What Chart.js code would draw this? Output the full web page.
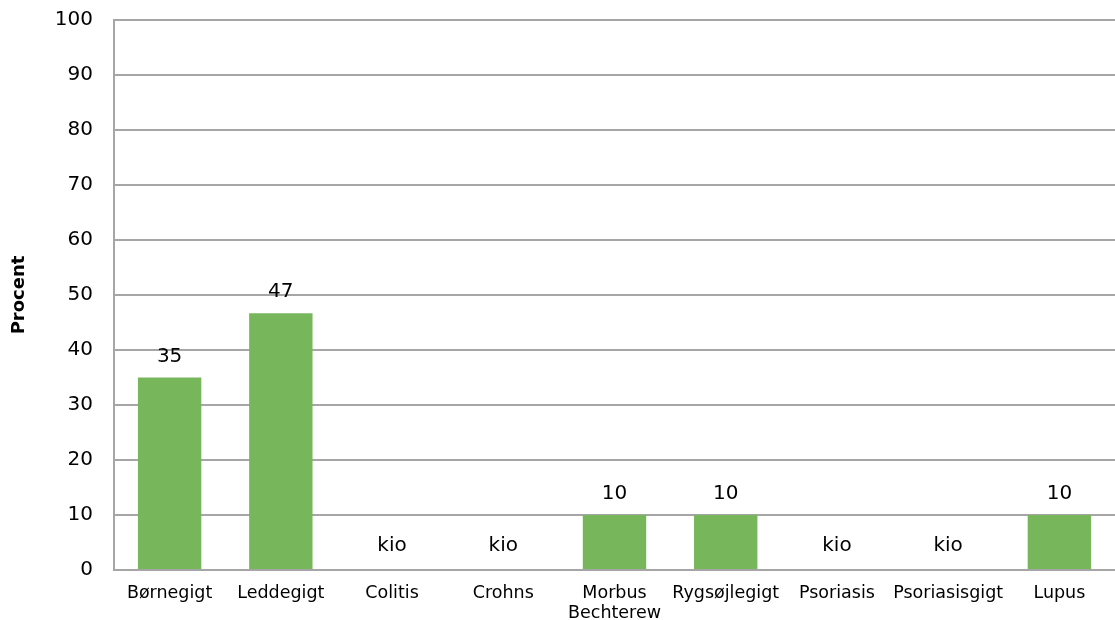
<!DOCTYPE html>
<html>
<head>
<meta charset="utf-8">
<script src="https://cdn.jsdelivr.net/npm/chart.js@4/dist/chart.umd.min.js"></script>
<style>
  html, body { margin:0; padding:0; background:#fff; }
  #wrap { width:1115px; height:620px; position:relative; }
</style>
</head>
<body>
<div id="wrap"><canvas id="chart"></canvas></div>
<script>
// ==================== DATA ====================
const categories = ["Børnegigt", "Leddegigt", "Colitis", "Crohns", ["Morbus", "Bechterew"],
                    "Rygsøjlegigt", "Psoriasis", "Psoriasisgigt", "Lupus"];
const values = [35, 46.7, 0, 0, 10, 10, 0, 0, 10];
const valueLabels = ["35", "47", "kio", "kio", "10", "10", "kio", "kio", "10"];
const yTicks = [0, 10, 20, 30, 40, 50, 60, 70, 80, 90, 100];

const FONT = "'DejaVu Sans', Verdana, sans-serif";
const gridColor = "#a6a6a6";

// labels above the bars, "kio" where there is no value
const barLabels = {
    id: "barLabels",
    afterDatasetsDraw(chart){
        const ctx = chart.ctx;
        const meta = chart.getDatasetMeta(0);
        ctx.save();
        ctx.font = "20px " + FONT;
        ctx.fillStyle = "#000";
        ctx.textAlign = "center";
        ctx.textBaseline = "alphabetic";
        meta.data.forEach((bar, i) => {
            const txt = valueLabels[i];
            const off = txt === "kio" ? 19 : 16;
            ctx.fillText(txt, bar.x, bar.y - off);
        });
        ctx.restore();
    }
};

new Chart(document.getElementById("chart"), {
    type: "bar",
    data: {
        labels: categories,
        datasets: [{
            data: values,
            backgroundColor: "#78b65c",
            borderWidth: 0,
            barPercentage: 0.57,
            categoryPercentage: 1
        }]
    },
    options: {
        responsive: true,
        maintainAspectRatio: false,
        animation: false,
        layout: { padding: { top: 20, right: 0, bottom: 0, left: 0 } },
        plugins: {
            legend: { display: false },
            tooltip: { enabled: false }
        },
        scales: {
            x: {
                grid: { display: false, drawTicks: false },
                border: { display: false },
                ticks: {
                    color: "#000",
                    font: { family: FONT, size: 17.5, lineHeight: 1.15 },
                    padding: 13,
                    maxRotation: 0,
                    autoSkip: false
                },
                afterFit(scale){
                    scale.height = 50;
                    scale.paddingLeft = 0;
                    scale.paddingRight = 0;
                }
            },
            y: {
                min: 0,
                max: 100,
                afterBuildTicks(scale){ scale.ticks = yTicks.map(v => ({ value: v })); },
                grid: { color: gridColor, lineWidth: 2, drawTicks: false },
                border: { color: gridColor, width: 2 },
                ticks: {
                    color: "#000",
                    font: { family: FONT, size: 20 },
                    padding: 21
                },
                title: {
                    display: true,
                    text: "Procent",
                    color: "#000",
                    font: { family: FONT, size: 18, weight: "bold", lineHeight: 1.2 },
                    padding: { top: 9, bottom: 0 }
                },
                afterFit(scale){
                    scale.width = 114;
                    scale.paddingTop = 0;
                    scale.paddingBottom = 0;
                }
            }
        }
    },
    plugins: [barLabels]
});
</script>
</body>
</html>
